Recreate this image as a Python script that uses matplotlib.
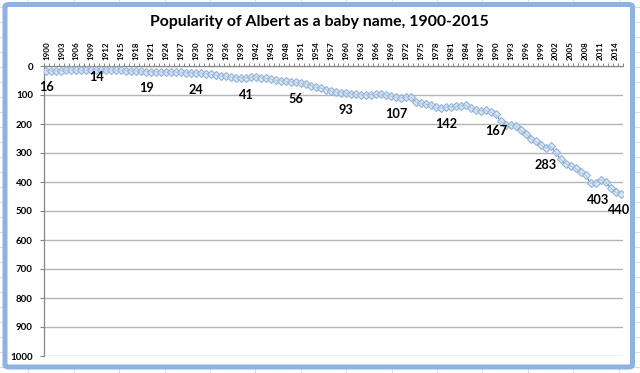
import numpy as np
import matplotlib
matplotlib.use('Agg')
import matplotlib.pyplot as plt
from matplotlib.lines import Line2D
from matplotlib.patches import FancyBboxPatch

# Rank of "Albert" per year
years = list(range(1900, 2016))
ranks = [
    16, 17, 16, 16, 15, 15, 15, 15, 15, 14,   # 1900-1909
    14, 14, 14, 14, 15, 15, 16, 16, 17, 18,   # 1910-1919
    19, 19, 20, 20, 21, 21, 22, 22, 23, 23,   # 1920-1929
    24, 25, 27, 29, 32, 34, 36, 38, 40, 41,   # 1930-1939
    41, 39, 37, 40, 43, 46, 49, 51, 53, 55,   # 1940-1949
    56, 58, 63, 68, 72, 77, 82, 86, 90, 92,   # 1950-1959
    93, 95, 97, 99, 99, 99, 98, 97, 100, 104, # 1960-1969
    107, 111, 107, 108, 124, 128, 132, 136, 143, 144,  # 1970-1979
    142, 140, 139, 137, 134, 145, 150, 155, 152, 160,  # 1980-1989
    167, 190, 203, 203, 208, 222, 234, 250, 260, 272,  # 1990-1999
    283, 276, 298, 322, 337, 345, 353, 367, 376, 405,  # 2000-2009
    403, 392, 400, 420, 435, 440,                      # 2010-2015
]
label_years = [1900, 1910, 1920, 1930, 1940, 1950, 1960, 1970, 1980, 1990, 2000, 2010, 2015]
y_ticks = list(range(0, 1001, 100))
title = 'Popularity of Albert as a baby name, 1900-2015'

W, H = 640, 373
fig = plt.figure(figsize=(W / 100, H / 100), dpi=100)
fig.patch.set_facecolor('white')

def fx(px):
    return px / W

def fy(py):
    return 1 - py / H

# spreadsheet grid peeking out behind the chart object
for gx in np.arange(28.3, W, 45.4):
    fig.add_artist(Line2D([fx(gx), fx(gx)], [0, 1], color='#dadde3', lw=0.8, zorder=-3))
for gy in np.arange(6.7, H, 15):
    fig.add_artist(Line2D([0, 1], [fy(gy), fy(gy)], color='#dadde3', lw=0.8, zorder=-3))

# chart area with blue frame
frame = FancyBboxPatch((fx(5), fy(367)), fx(632.5) - fx(5), fy(4.5) - fy(367),
                       boxstyle='round,pad=0,rounding_size=0.006',
                       transform=fig.transFigure, facecolor='white',
                       edgecolor='#8db3e2', lw=3.6, zorder=-2)
fig.add_artist(frame)

ax = fig.add_axes([fx(44), fy(356), fx(623) - fx(44), fy(66) - fy(356)])
ax.set_zorder(2)
ax.patch.set_facecolor('white')

ax.plot(years, ranks, color='#4f81bd', lw=0.8, marker='D', ms=4.4,
        mfc=(0.82, 0.88, 0.96, 0.75), mec='#95b3d7', mew=0.8, zorder=3)

for yr in label_years:
    v = ranks[years.index(yr)]
    dy = -5 if yr == 1910 else -12
    dx = 2 if yr == 2010 else (-1 if yr == 2015 else 0)
    ax.annotate(str(v), (yr, v), xytext=(dx, dy), textcoords='offset points',
                ha='center', va='center', fontsize=9.2, fontweight='bold',
                family='Lato', color='black', zorder=4)

ax.set_xlim(1899.5, 2015.5)
ax.set_ylim(1000, 0)

ax.xaxis.tick_top()
ax.set_xticks(years[::3])
ax.set_xticklabels([str(y) for y in years[::3]], rotation=90, fontsize=5.8,
                   fontweight='bold', family='Lato')
ax.set_xticks(np.arange(1899.5, 2016, 1), minor=True)
ax.tick_params(axis='x', which='major', length=0, pad=4.5)
ax.tick_params(axis='x', which='minor', top=True, bottom=False, length=2.5,
               color='#868686', width=0.7)

ax.set_yticks(y_ticks)
ax.set_yticklabels([str(t) for t in y_ticks], fontsize=7, fontweight='bold', family='Lato')
ax.tick_params(axis='y', length=3, color='#868686', width=0.8, pad=5)

ax.yaxis.grid(True, color='#b4b4b4', lw=1.0)
ax.set_axisbelow(True)

for s in ['right', 'bottom']:
    ax.spines[s].set_visible(False)
for s in ['top', 'left']:
    ax.spines[s].set_color('#868686')
    ax.spines[s].set_linewidth(0.9)

fig.text(fx(319), fy(22), title, ha='center', va='center', fontsize=11.4,
         fontweight='bold', family='Lato')

fig.savefig('out.png', dpi=100)
